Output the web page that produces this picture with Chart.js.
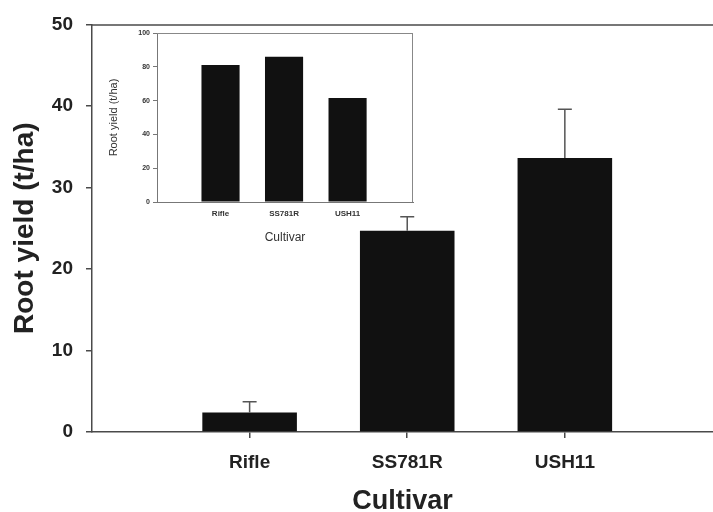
<!DOCTYPE html>
<html>
<head>
<meta charset="utf-8">
<script src="https://cdn.jsdelivr.net/npm/chart.js@4.4.1/dist/chart.umd.min.js"></script>
<style>
  html, body { margin: 0; padding: 0; background: #fff; }
  #wrap { position: relative; width: 713px; height: 512px; }
  #main { position: absolute; left: 0; top: 0; }
  #inset { position: absolute; left: 100px; top: 20px; }
</style>
</head>
<body>
<div id="wrap">
  <canvas id="main" width="713" height="512"></canvas>
  <canvas id="inset" width="320" height="240"></canvas>
</div>
<script>
// ---- data ----
const categories = ['Rifle', 'SS781R', 'USH11'];
const mainYield = [2.4, 24.7, 33.6];
const mainErr = [1.3, 1.7, 6.0];
const mainYTicks = [0, 10, 20, 30, 40, 50];
const insetYield = [81, 86, 61.5];
const insetYTicks = [0, 20, 40, 60, 80, 100];
const yTitle = 'Root yield (t/ha)';
const xTitle = 'Cultivar';

const FONT = '"Liberation Sans", Arial, Helvetica, sans-serif';
const AXIS = '#4a4a4a';
const BAR = '#111111';

const errorBarPlugin = {
  id: 'errorBars',
  afterDatasetsDraw(chart, args, opts) {
    if (!opts.values) return;
    const { ctx, scales: { x, y } } = chart;
    ctx.save();
    ctx.strokeStyle = '#555';
    ctx.lineWidth = 1.5;
    opts.values.forEach((v, i) => {
      const px = x.getPixelForValue(i + 1);
      const top = y.getPixelForValue(v + opts.errs[i]);
      const base = y.getPixelForValue(v);
      ctx.beginPath();
      ctx.moveTo(px, base);
      ctx.lineTo(px, top);
      ctx.moveTo(px - 7, top);
      ctx.lineTo(px + 7, top);
      ctx.stroke();
    });
    ctx.restore();
  }
};

const frameLinePlugin = {
  id: 'frameLines',
  afterDraw(chart, args, opts) {
    const { ctx, chartArea: a } = chart;
    ctx.save();
    ctx.strokeStyle = opts.color || AXIS;
    ctx.lineWidth = opts.width || 1;
    ctx.beginPath();
    ctx.moveTo(a.left, a.top + 0.5);
    ctx.lineTo(a.right, a.top + 0.5);
    if (opts.right) {
      ctx.moveTo(a.right - 0.5, a.top);
      ctx.lineTo(a.right - 0.5, a.bottom);
    }
    ctx.stroke();
    ctx.restore();
  }
};

// ---- main chart ----
new Chart(document.getElementById('main'), {
  type: 'bar',
  data: {
    datasets: [{
      data: categories.map((c, i) => ({ x: i + 1, y: mainYield[i] })),
      backgroundColor: BAR,
      borderWidth: 0,
      categoryPercentage: 1,
      barPercentage: 0.6
    }]
  },
  plugins: [errorBarPlugin, frameLinePlugin],
  options: {
    responsive: false,
    animation: false,
    layout: { padding: { top: 15, right: 0, bottom: 0, left: 0 } },
    plugins: {
      legend: { display: false },
      tooltip: { enabled: false },
      errorBars: { values: mainYield, errs: mainErr },
      frameLines: { color: AXIS, width: 1.5 }
    },
    scales: {
      x: {
        type: 'linear',
        offset: false,
        bounds: 'data',
        min: 0,
        max: 3.94,
        afterBuildTicks: s => { s.ticks = categories.map((c, i) => ({ value: i + 1 })); },
        afterFit: s => { s.height = 80; },
        ticks: {
          autoSkip: false,
          maxRotation: 0,
          padding: 13,
          color: '#222',
          font: { family: FONT, size: 19, weight: 'bold' },
          callback: v => categories[v - 1]
        },
        grid: { offset: false, drawOnChartArea: false, tickLength: 6, color: AXIS, lineWidth: 1.5 },
        border: { display: true, color: AXIS, width: 1.5 },
        title: {
          display: true,
          text: xTitle,
          color: '#222',
          padding: { top: 0, bottom: -6 },
          font: { family: FONT, size: 27, weight: 'bold' }
        }
      },
      y: {
        min: 0,
        max: 50,
        afterBuildTicks: s => { s.ticks = mainYTicks.map(v => ({ value: v })); },
        afterFit: s => { s.width = 92; },
        ticks: {
          padding: 13,
          color: '#222',
          font: { family: FONT, size: 19, weight: 'bold' }
        },
        grid: { drawOnChartArea: false, tickLength: 6, color: AXIS, lineWidth: 1.5 },
        border: { display: true, color: AXIS, width: 1.5 },
        title: {
          display: true,
          text: yTitle,
          color: '#222',
          padding: { top: 8, bottom: 0 },
          font: { family: FONT, size: 28, weight: 'bold' }
        }
      }
    }
  }
});

// ---- inset chart ----
new Chart(document.getElementById('inset'), {
  type: 'bar',
  data: {
    datasets: [{
      data: categories.map((c, i) => ({ x: i + 1, y: insetYield[i] })),
      backgroundColor: BAR,
      borderWidth: 0,
      categoryPercentage: 1,
      barPercentage: 0.6
    }]
  },
  plugins: [frameLinePlugin],
  options: {
    responsive: false,
    animation: false,
    layout: { padding: { top: 13, right: 7, bottom: 0, left: 0 } },
    plugins: {
      legend: { display: false },
      tooltip: { enabled: false },
      frameLines: { color: '#888', width: 1, right: true }
    },
    scales: {
      x: {
        type: 'linear',
        offset: false,
        bounds: 'data',
        min: 0,
        max: 4.03,
        afterBuildTicks: s => { s.ticks = categories.map((c, i) => ({ value: i + 1 })); },
        afterFit: s => { s.height = 58; },
        ticks: {
          autoSkip: false,
          maxRotation: 0,
          padding: 4,
          color: '#333',
          font: { family: FONT, size: 8, weight: 'bold' },
          callback: v => categories[v - 1]
        },
        grid: { offset: false, drawOnChartArea: false, drawTicks: true, tickLength: 3, color: '#fff' },
        border: { display: true, color: '#777', width: 1 },
        title: {
          display: true,
          text: xTitle,
          color: '#333',
          padding: { top: 0, bottom: 15 },
          font: { family: FONT, size: 12 }
        }
      },
      y: {
        min: 0,
        max: 100,
        afterBuildTicks: s => { s.ticks = insetYTicks.map(v => ({ value: v })); },
        afterFit: s => { s.width = 57; },
        ticks: {
          padding: 3,
          color: '#333',
          font: { family: FONT, size: 7, weight: 'bold' }
        },
        grid: { drawOnChartArea: false, tickLength: 4, color: '#777' },
        border: { display: true, color: '#777', width: 1 },
        title: {
          display: true,
          text: yTitle,
          color: '#333',
          padding: { top: 7, bottom: 0 },
          font: { family: FONT, size: 11 }
        }
      }
    }
  }
});
</script>
</body>
</html>
